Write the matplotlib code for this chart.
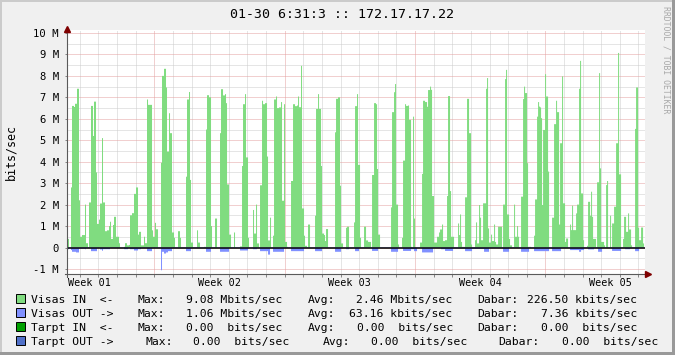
import numpy as np
import matplotlib
matplotlib.use("Agg")
import matplotlib.pyplot as plt
from matplotlib.patches import Rectangle
from matplotlib.lines import Line2D

# ---------------- data ----------------
title = "01-30 6:31:3 :: 172.17.17.22"
watermark = "RRDTOOL / TOBI OETIKER"
y_label = "bits/sec"
week_labels = ["Week 01", "Week 02", "Week 03", "Week 04", "Week 05"]
y_tick_values = [-1, 0, 1, 2, 3, 4, 5, 6, 7, 8, 9, 10]
y_tick_labels = ["-1 M", "0", "1 M", "2 M", "3 M", "4 M", "5 M", "6 M",
                 "7 M", "8 M", "9 M", "10 M"]

# time axis: days; one consolidated sample = 7/130.33 day
samples_per_week = 130.33
first_week_start = 4.69          # day offset of first week boundary
n_days_shown = 31.04

# Visas IN (Mbit/s) as (value, number of consecutive samples)
in_seg1 = [(1.9,1),(0.4,1),(0,2),(2.8,1),(6.6,2),(6.55,1),(6.7,2),(7.4,2),(2.2,1),
           (0.5,2),(0.58,3),(2.0,1),(0.2,2),(0,1),(2.1,2),(6.6,2),(5.2,1),(6.8,2),
           (3.5,1),(1.1,2),(1.3,1),(2.05,2),(5.1,1),(2.1,2),(0.76,2),(0.8,2),(1.0,1),
           (1.2,1),(0.4,2),(1.05,1),(1.43,2),(0.5,1),(0.5,2),(0.2,1),(0,4),(0.03,1),
           (0.2,2),(0.1,2),(0.12,1),(1.5,2),(1.6,2),(2.5,2),(2.8,2),(0.6,1),(0.73,2),
           (0.1,3),(0.5,1),(0.2,2),(6.9,1),(6.65,4),(0.8,1),(0.5,2),(1.15,1),(0.85,2),
           (0,3),(3.95,1),(8.0,2),(8.33,2),(7.46,1),(4.47,2),(6.26,1),(5.33,2),(0.7,2),
           (0.45,1),(0,3),(0.76,2),(0.45,1),(0,5),(3.3,1),(6.9,2),(7.25,1),(3.15,1),
           (0.23,2),(0,4),(0.8,1),(0.23,2),(0,4),(0.03,2),(5.5,1),(7.1,2),(7.0,2),(1.0,1)]
in_seg2 = [(0,3),(1.35,2),(0,3),(5.33,1),(7.38,2),(7.09,2),(7.15,1),(6.73,1),(2.94,2),
           (0.6,2),(0,3),(0.7,1),(0,5),(0.05,2),(3.8,1),(6.68,2),(7.15,1),(4.2,2),(0.45,1),
           (0,4),(1.75,1),(0.65,2),(2.0,1),(0.19,2),(0,1),(2.9,2),(6.84,1),(6.68,2),
           (6.73,2),(4.24,1),(0.33,2),(1.39,1),(0,2),(0.55,1),(6.9,2),(7.04,1),(6.5,2),
           (6.53,2),(6.78,1),(2.18,2),(6.68,1),(0.26,2),(0.03,1),(0,3),(3.1,2),(6.68,2),
           (6.59,2),(6.62,1),(7.04,1),(6.54,2),(8.47,1),(1.82,2),(0.55,1),(0.08,2),(0,1),
           (1.07,2),(0,5),(1.48,1),(6.46,2),(7.15,1),(6.46,2),(3.8,1),(0.65,2),(0.58,1),
           (0.3,1),(0.86,2),(0,7),(5.37,1),(6.93,2),(7.0,2),(2.88,1),(0.19,2),(0,3),
           (0.92,1),(0.97,2),(0,5),(1.17,1),(6.59,2)]
in_seg3 = [(7.15,1),(3.85,2),(0.45,1),(0,3),(0.97,2),(0.33,2),(0.26,3),(0,1),(3.38,2),
           (6.73,2),(6.68,1),(3.66,1),(0.6,2),(0,11),(1.87,1),(6.31,2),(7.24,1),(7.62,1),
           (2.0,2),(0.14,1),(0,3),(0.45,1),(4.05,2),(6.68,1),(6.6,2),(6.62,1),(5.95,2),
           (0.03,1),(0,1),(6.1,1),(1.35,1),(0,5),(0.23,2),(3.43,1),(6.84,2),(6.78,2),
           (6.56,1),(7.34,2),(7.5,1),(7.35,1),(2.4,2),(0.23,3),(0.5,2),(0.7,1),(0.84,2),
           (1.07,1),(0.3,2),(0.34,2),(2.4,1),(7.06,2),(2.63,1),(0.5,1),(0.5,2),(0,4),
           (1.12,1),(0.58,1),(1.54,1),(0.26,1),(0.03,3),(2.34,2),(6.93,2),(5.33,1),(5.33,1),
           (0.14,1),(0,3),(0.34,1),(1.17,1),(0.19,2),(1.98,1),(1.39,1),(0.34,2),(2.06,1),
           (2.06,2),(7.4,1),(7.9,1),(0.89,1),(0.23,2),(0.6,1),(0.3,2),(1.07,1),(0.26,1),
           (0.14,2),(0.97,2),(0.97,2)]
in_seg4 = [(0,1),(2.0,2),(7.85,1),(8.28,1),(1.54,2),(0.4,1),(0.1,2),(0,2),(2.0,1),(0.5,2),
           (1.0,1),(0.5,1),(0,2),(2.37,2),(6.92,1),(7.5,1),(7.2,2),(3.93,1),(0.03,3),(0,3),
           (0.55,1),(2.24,2),(6.1,1),(6.78,1),(6.57,1),(6.53,1),(6.03,1),(1.98,1),(5.48,2),
           (8.08,1),(7.04,2),(3.54,1),(0,3),(1.39,2),(5.75,2),(6.84,1),(6.31,2),(1.07,1),
           (4.86,2),(7.98,1),(2.06,2),(0.26,1),(0.42,2),(0,2),(1.07,1),(0.81,1),(1.95,1),
           (0.81,3),(1.59,1),(2.0,2),(7.4,1),(8.7,1),(2.52,2),(0.34,1),(0,3),(0.08,1),
           (2.13,2),(1.48,1),(2.6,1),(1.43,1),(0.4,3),(0,1),(3.04,2),(8.13,1),(3.69,1),
           (0.26,3),(0.1,1),(0,1),(2.91,1),(3.1,1),(0,2),(1.48,1),(0,1),(1.12,2),(1.9,2),
           (4.86,2),(9.07,1),(3.41,2),(0,2),(0.4,1),(1.43,2),(0.73,2),(1.59,1),(0.84,2),
           (0.1,1),(0,3),(5.53,1),(7.46,2),(0.92,1),(0.34,2),(0.93,2),(0.19,1)]

# Visas OUT (Mbit/s, drawn downward)
out_seg1 = [(0.08,2),(0.02,2),(0.12,1),(0.2,4),(0.23,3),(0.05,6),(0.08,1),(0.03,5),
            (0.17,6),(0.03,3),(0.09,2),(0.15,1),(0.08,7),(0.02,14),(0.08,4),(0.02,2),
            (0.08,4),(0.14,4),(0.08,3),(0.03,6),(0.17,5),(0.03,9),(1.06,1),(0.2,2),
            (0.28,2),(0.23,2),(0.17,4),(0.03,14),(0.17,5),(0.03,15),(0.2,5)]
out_seg2 = [(0.02,9),(0.2,9),(0.02,11),(0.14,8),(0.02,5),(0.08,4),(0.02,3),(0.17,8),
            (0.33,2),(0.02,3),(0.2,11),(0.02,7),(0.17,13),(0.02,11),(0.17,7),(0.02,13),
            (0.2,6),(0.02,5),(0.08,3),(0.02,6),(0.17,2)]
out_seg3 = [(0.17,2),(0.02,13),(0.16,6),(0.02,13),(0.2,7),(0.02,5),(0.16,8),(0.08,3),
            (0.17,3),(0.02,5),(0.23,11),(0.02,8),(0.08,4),(0.16,8),(0.04,12),(0.17,7),
            (0.06,12),(0.2,5),(0.02,13)]
out_seg4 = [(0.02,1),(0.2,6),(0.02,12),(0.2,8),(0.02,5),(0.17,15),(0.02,3),(0.17,9),
            (0.02,9),(0.12,9),(0.2,2),(0.12,3),(0.02,4),(0.09,6),(0.02,4),(0.2,4),
            (0.02,10),(0.16,9),(0.02,4),(0.08,5),(0.02,5),(0.17,4),(0.02,5)]

legend_names = ["Visas IN  <-", "Visas OUT ->", "Tarpt IN  <-", "Tarpt OUT ->"]
legend_colors = ["#80DC80", "#8090FF", "#00A000", "#5070C8"]
max_text = ["9.08 Mbits/sec", "1.06 Mbits/sec", "0.00  bits/sec", "0.00  bits/sec"]
avg_text = ["2.46 Mbits/sec", "63.16 kbits/sec", "0.00  bits/sec", "0.00  bits/sec"]
last_text = ["226.50 kbits/sec", "7.36 kbits/sec", "0.00  bits/sec", "0.00  bits/sec"]

# ---------------- drawing ----------------
W, H = 675, 355
FONT = "DejaVu Sans Mono"
plt.rcParams["font.family"] = [FONT, "DejaVu Sans"]


def fx(px):
    return px / W


def fy(py):
    return 1 - py / H


def expand(*segs):
    vals, counts = [], []
    for seg in segs:
        for v, c in seg:
            vals.append(v)
            counts.append(c)
    return np.repeat(np.array(vals, float), counts)


in_series = expand(in_seg1, in_seg2, in_seg3, in_seg4)
out_series = expand(out_seg1, out_seg2, out_seg3, out_seg4)
step = 7.0 / samples_per_week
edges_in = np.arange(len(in_series) + 1) * step
edges_out = np.arange(len(out_series) + 1) * step

fig = plt.figure(figsize=(W / 100, H / 100), dpi=100, facecolor="#F0F0F0")

ax_l, ax_r, ax_t, ax_b = 67, 645, 30, 274
ax = fig.add_axes([fx(ax_l), fy(ax_b), fx(ax_r - ax_l), (ax_b - ax_t) / H])
ax.set_facecolor("white")
zero_px, m_px = 247.5, 21.45
ax.set_ylim((zero_px - ax_b) / m_px, (zero_px - ax_t) / m_px)
ax.set_xlim(0, n_days_shown)

# grid (dotted)
dotted = (0, (1, 1))
lw = 0.72
red_grid, grey_grid = "#E4A0A0", "#CDCDCD"
days = np.arange(first_week_start - 5, n_days_shown + 1, 1.0)
for d in days:
    if d <= 0 or d >= n_days_shown:
        continue
    is_week = abs(((d - first_week_start) / 7) - round((d - first_week_start) / 7)) < 1e-6
    ax.axvline(d, color=red_grid if is_week else grey_grid, ls=dotted, lw=lw, zorder=1)
for yv in np.arange(-1.0, 10.01, 0.5):
    major = abs(yv - round(yv)) < 1e-6
    ax.axhline(yv, color=red_grid if major else grey_grid, ls=dotted, lw=lw, zorder=1)

ax.stairs(in_series, edges_in, fill=True, color=legend_colors[0], lw=0, zorder=2)
ax.stairs(-out_series, edges_out, fill=True, color=legend_colors[1], lw=0, zorder=3)
ax.axhline(0, color="black", lw=1.1, zorder=4)

for s in ax.spines.values():
    s.set_visible(False)

ax.set_yticks(y_tick_values, labels=y_tick_labels)
ax.tick_params(axis="y", length=1.5, width=0.72, color="#888888", pad=4.5,
               labelsize=7.6)
week_centers = [first_week_start - 3.5 + 7 * k for k in range(len(week_labels))]
ax.set_xticks(week_centers, labels=week_labels)
ax.tick_params(axis="x", which="major", length=0, pad=3.2, labelsize=7.3)
ax.set_xticks([d for d in days if 0 < d < n_days_shown], minor=True)
ax.tick_params(axis="x", which="minor", length=1.8, width=0.72, color="#888888")
for t in ax.get_yticklabels() + ax.get_xticklabels():
    t.set_family(FONT)

# axes lines and arrows
axis_col = "#5A5A5A"
fig.add_artist(Line2D([fx(65), fx(648)], [fy(274), fy(274)], color=axis_col, lw=0.8))
fig.add_artist(Line2D([fx(66.5), fx(66.5)], [fy(277), fy(29)], color=axis_col, lw=0.8))
fig.add_artist(Line2D([fx(648)], [fy(274)], marker=">", ms=4.2, color="#7F0000", lw=0))
fig.add_artist(Line2D([fx(66.5)], [fy(28.5)], marker="^", ms=4.2, color="#7F0000", lw=0))

# title, labels
fig.text(fx(341.5), fy(18.3), title, ha="center", va="baseline", fontsize=9.5, family=FONT)
fig.text(fx(11), fy(152), y_label, rotation=90, ha="center", va="center",
         fontsize=8.4, family=FONT)
fig.text(fx(666), fy(60), watermark, rotation=-90, ha="center", va="center",
         fontsize=5.9, family=FONT, color="#A8A8A8")

# legend
rows_y = [303.3, 317.3, 331.3, 345.3]
name_x = 31
max_lbl_x = [137.3, 137.3, 137.3, 145]
max_val_x = [186, 186, 186, 193.3]
avg_lbl_x = [307.3, 307.3, 307.3, 323]
avg_val_x = [356, 349.3, 356.7, 371]
last_lbl_x = [477.7, 477.7, 477.7, 498.3]
last_val_x = [526.7, 540.7, 540.7, 561.7]
fs = 8.2
for i in range(4):
    yb = rows_y[i]
    fig.add_artist(Rectangle((fx(15.5), fy(yb - 0.5)), 9 / W, 9 / H,
                             transform=fig.transFigure, facecolor=legend_colors[i],
                             edgecolor="black", lw=0.7))
    for xx, txt in [(name_x, legend_names[i]), (max_lbl_x[i], "Max:"),
                    (max_val_x[i], max_text[i]), (avg_lbl_x[i], "Avg:"),
                    (avg_val_x[i], avg_text[i]), (last_lbl_x[i], "Dabar:"),
                    (last_val_x[i], last_text[i])]:
        fig.text(fx(xx), fy(yb), txt, ha="left", va="baseline", fontsize=fs, family=FONT)

# 3D frame of rrdtool image
fig.add_artist(Rectangle((0, fy(2)), 1, 2 / H, transform=fig.transFigure,
                         facecolor="#CBCBCB", lw=0))
fig.add_artist(Rectangle((0, 0), 2 / W, 1, transform=fig.transFigure,
                         facecolor="#CBCBCB", lw=0))
fig.add_artist(Rectangle((fx(672), 0), 3 / W, 1, transform=fig.transFigure,
                         facecolor="#999999", lw=0))
fig.add_artist(Rectangle((0, 0), 1, 3 / H, transform=fig.transFigure,
                         facecolor="#999999", lw=0))

fig.savefig("out.png", dpi=100, facecolor=fig.get_facecolor())
